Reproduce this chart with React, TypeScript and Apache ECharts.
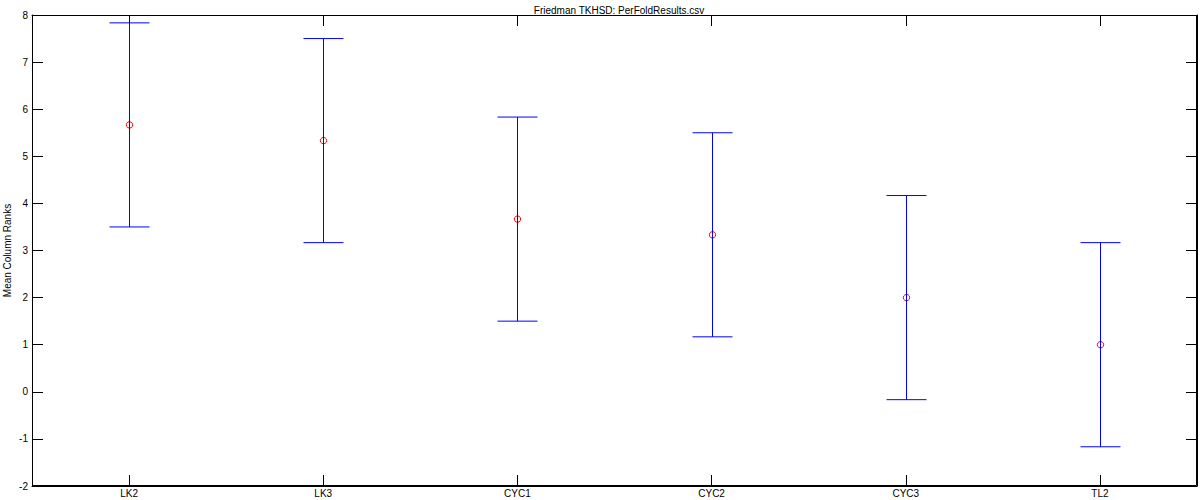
import React, { useEffect, useRef } from "react";
import * as echarts from "echarts";

const categories = ["LK2", "LK3", "CYC1", "CYC2", "CYC3", "TL2"];
const means = [5.667, 5.333, 3.667, 3.333, 2.0, 1.0];
const lower = [3.5, 3.167, 1.5, 1.167, -0.167, -1.167];
const upper = [7.833, 7.5, 5.833, 5.5, 4.167, 3.167];
const yTicks = { min: -2, max: 8, interval: 1 };

const FONT = "Liberation Sans, Arial, sans-serif";

export default function App() {
  const ref = useRef<HTMLDivElement>(null);
  useEffect(() => {
    if (!ref.current) return;
    const chart = echarts.init(ref.current, null, { renderer: "svg" });
    const data = categories.map((c, i) => [i, means[i], lower[i], upper[i]]);
    const axisLine = { show: true, onZero: false, lineStyle: { color: "#000", width: 1 } };
    const tick = { show: true, inside: true, length: 11, lineStyle: { color: "#000" } };
    chart.setOption({
      animation: false,
      backgroundColor: "#fff",
      title: {
        text: "Friedman TKHSD: PerFoldResults.csv",
        left: 614,
        textAlign: "center",
        top: 0,
        textStyle: { fontFamily: FONT, fontSize: 10, fontWeight: "normal", color: "#000" },
      },
      grid: {
        left: 32,
        right: 3,
        top: 15,
        bottom: 14,
        containLabel: false,
        outerBoundsMode: "none",
      },
      xAxis: [
        {
          type: "category",
          data: categories,
          boundaryGap: true,
          position: "bottom",
          axisLine,
          axisTick: { ...tick, alignWithLabel: true },
          axisLabel: { fontFamily: FONT, fontSize: 10, color: "#000", margin: 2 },
          splitLine: { show: false },
        },
        {
          type: "category",
          data: categories,
          boundaryGap: true,
          position: "top",
          axisLine,
          axisTick: { ...tick, alignWithLabel: true },
          axisLabel: { show: false },
          splitLine: { show: false },
        },
      ],
      yAxis: [
        {
          type: "value",
          min: yTicks.min,
          max: yTicks.max,
          interval: yTicks.interval,
          position: "left",
          name: "Mean Column Ranks",
          nameLocation: "middle",
          nameRotate: 90,
          nameGap: 20,
          nameMoveOverlap: false,
          nameTextStyle: { fontFamily: FONT, fontSize: 10, color: "#000" },
          axisLine,
          axisTick: tick,
          axisLabel: { fontFamily: FONT, fontSize: 10, color: "#000", margin: 4 },
          splitLine: { show: false },
        },
        {
          type: "value",
          min: yTicks.min,
          max: yTicks.max,
          interval: yTicks.interval,
          position: "right",
          axisLine,
          axisTick: tick,
          axisLabel: { show: false },
          splitLine: { show: false },
        },
      ],
      series: [
        {
          type: "custom",
          xAxisIndex: 0,
          yAxisIndex: 0,
          clip: false,
          data,
          renderItem: (params: any, api: any) => {
            const x = api.value(0);
            const m = api.coord([x, api.value(1)]);
            const lo = api.coord([x, api.value(2)]);
            const hi = api.coord([x, api.value(3)]);
            const cx = Math.round(m[0]) + 0.5;
            const hw = 20;
            const stroke = { stroke: "#0000ff", lineWidth: 1, fill: "none" };
            const children: any[] = [];
            if (params.dataIndex === 0) {
              const cs = params.coordSys;
              children.push({
                type: "rect",
                shape: {
                  x: Math.round(cs.x) + 0.5,
                  y: Math.round(cs.y) + 0.5,
                  width: Math.round(cs.width) - 1,
                  height: Math.round(cs.height) - 1,
                },
                style: { stroke: "#000", lineWidth: 1, fill: "none" },
              });
            }
            children.push(
              {
                type: "circle",
                shape: { cx, cy: m[1], r: 3.2 },
                style: { stroke: "#ff0000", lineWidth: 1, fill: "none" },
              },
              { type: "line", shape: { x1: cx, y1: lo[1], x2: cx, y2: hi[1] }, style: stroke },
              { type: "line", shape: { x1: cx - hw, y1: lo[1], x2: cx + hw, y2: lo[1] }, style: stroke },
              { type: "line", shape: { x1: cx - hw, y1: hi[1], x2: cx + hw, y2: hi[1] }, style: stroke }
            );
            return { type: "group", children };
          },
        },
      ],
    });
    return () => chart.dispose();
  }, []);
  return (
    <div
      ref={ref}
      style={{ position: "fixed", left: 0, top: 0, width: 1200, height: 500, background: "#fff" }}
    />
  );
}
